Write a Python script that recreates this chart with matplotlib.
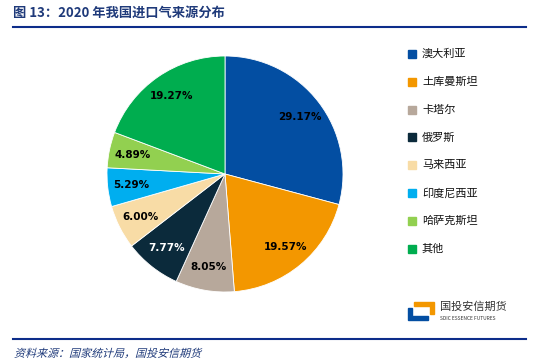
import matplotlib.pyplot as plt
from matplotlib.patches import Rectangle, Polygon, PathPatch
from matplotlib.textpath import TextPath
from matplotlib.font_manager import FontProperties
from matplotlib.transforms import Affine2D, IdentityTransform

plt.rcParams['font.family'] = ['Noto Sans CJK SC', 'DejaVu Sans']

# data
countries = ['澳大利亚', '土库曼斯坦', '卡塔尔', '俄罗斯', '马来西亚', '印度尼西亚', '哈萨克斯坦', '其他']
shares = [29.17, 19.57, 8.05, 7.77, 6.00, 5.29, 4.89, 19.27]
colors = ['#034EA2', '#F39700', '#B7A89B', '#0B2A3B', '#F8DCA6', '#00AEEF', '#92D050', '#00AD4F']
label_colors = ['black', 'black', 'black', 'white', 'black', 'black', 'black', 'black']

W, H = 533, 363
fig = plt.figure(figsize=(W / 100, H / 100), dpi=100)

# title and rules
fig.text(13 / W, 1 - 13 / H, '图 13：2020 年我国进口气来源分布', fontsize=9.5, color='#1F3A7A',
         fontweight='bold', va='center', ha='left')
fig.add_artist(plt.Line2D([13 / W, 526 / W], [1 - 27 / H, 1 - 27 / H], color='#0D2D8A', lw=1.5))
fig.add_artist(plt.Line2D([13 / W, 526 / W], [1 - 339 / H, 1 - 339 / H], color='#0D2D8A', lw=1.5))

# source note, slanted to mimic italic
src_path = TextPath((0, 0), '资料来源：国家统计局，国投安信期货', size=11,
                    prop=FontProperties(family='Noto Sans CJK SC'))
src_tr = Affine2D().skew_deg(15, 0).translate(14, H - 357)
fig.add_artist(PathPatch(src_path, transform=src_tr + IdentityTransform(),
                         color='#1F3A7A', lw=0))

# pie
cx, cy, r = 225, 174, 118
ax = fig.add_axes([(cx - r) / W, 1 - (cy + r) / H, 2 * r / W, 2 * r / H])
wedges, texts, autotexts = ax.pie(shares, colors=colors, startangle=90, counterclock=False,
                                  autopct='%.2f%%', pctdistance=0.8,
                                  wedgeprops=dict(edgecolor='white', linewidth=0.6),
                                  textprops=dict(fontsize=7.5, fontweight='bold', family='DejaVu Sans'))
for t, c in zip(autotexts, label_colors):
    t.set_color(c)
ax.set_xlim(-1, 1)
ax.set_ylim(-1, 1)
ax.set_aspect('equal')

# legend
y0, dy = 54, 27.8
for i, (name, col) in enumerate(zip(countries, colors)):
    y = y0 + i * dy
    fig.add_artist(Rectangle((408 / W, 1 - (y + 4) / H), 8 / W, 8 / H, color=col,
                             transform=fig.transFigure))
    fig.text(422 / W, 1 - y / H, name, fontsize=8, color='#111111', va='center', ha='left')

# logo
lx, ly = 408, 300
fig.add_artist(Polygon([((lx) / W, 1 - (ly + 8) / H), ((lx + 4) / W, 1 - (ly + 8) / H),
                        ((lx + 4) / W, 1 - (ly + 16) / H), ((lx + 20) / W, 1 - (ly + 16) / H),
                        ((lx + 20) / W, 1 - (ly + 20) / H), ((lx) / W, 1 - (ly + 20) / H)],
                       closed=True, color='#034EA2', transform=fig.transFigure))
fig.add_artist(Polygon([((lx + 6) / W, 1 - (ly + 2) / H), ((lx + 26) / W, 1 - (ly + 2) / H),
                        ((lx + 26) / W, 1 - (ly + 14) / H), ((lx + 22) / W, 1 - (ly + 14) / H),
                        ((lx + 22) / W, 1 - (ly + 6) / H), ((lx + 6) / W, 1 - (ly + 6) / H)],
                       closed=True, color='#F39700', transform=fig.transFigure))
fig.text(440 / W, 1 - 307 / H, '国投安信期货', fontsize=8, color='#333333', va='center', ha='left')
fig.text(440 / W, 1 - 318 / H, 'SDIC ESSENCE FUTURES', fontsize=3.5, color='#333333',
         va='center', ha='left')

fig.savefig('out.png', dpi=100)
